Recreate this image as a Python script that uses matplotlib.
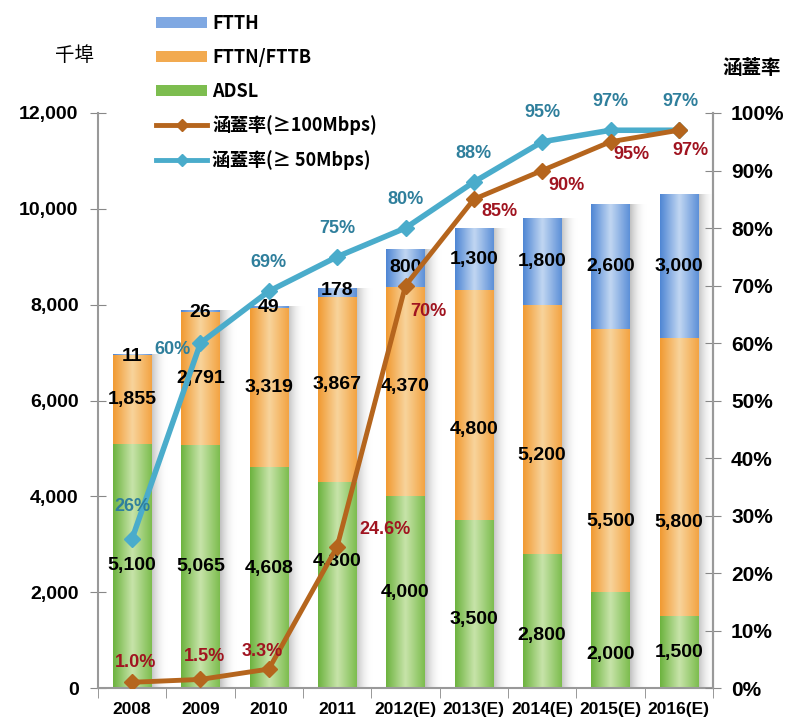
import numpy as np
import matplotlib.pyplot as plt
from matplotlib.colors import LinearSegmentedColormap
from matplotlib.patches import Patch
from matplotlib.lines import Line2D

years = ['2008', '2009', '2010', '2011', '2012(E)', '2013(E)', '2014(E)', '2015(E)', '2016(E)']
adsl = [5100, 5065, 4608, 4300, 4000, 3500, 2800, 2000, 1500]
fttn = [1855, 2791, 3319, 3867, 4370, 4800, 5200, 5500, 5800]
ftth = [11, 26, 49, 178, 800, 1300, 1800, 2600, 3000]
cov100 = [1.0, 1.5, 3.3, 24.6, 70, 85, 90, 95, 97]
cov50 = [26, 60, 69, 75, 80, 88, 95, 97, 97]
cov100_lbl = ['1.0%', '1.5%', '3.3%', '24.6%', '70%', '85%', '90%', '95%', '97%']
cov50_lbl = ['26%', '60%', '69%', '75%', '80%', '88%', '95%', '97%', '97%']

plt.rcParams['font.family'] = ['Liberation Sans', 'DejaVu Sans']
cjk = ['Noto Sans CJK TC', 'DejaVu Sans']

green = LinearSegmentedColormap.from_list('g', ['#6db33f', '#c8e4aa', '#7dbd4f'])
orange = LinearSegmentedColormap.from_list('o', ['#f19a32', '#f8d49c', '#f3a443'])
blue = LinearSegmentedColormap.from_list('b', ['#4f86d4', '#c2d7f2', '#5d90d8'])
shade = LinearSegmentedColormap.from_list('s', [(0.55, 0.55, 0.55, 0.55), (1, 1, 1, 0)])

fig = plt.figure(figsize=(7.87, 7.17), dpi=100)
ax = fig.add_axes([0.1245, 0.0404, 0.7815, 0.802])
x = np.arange(len(years))
w = 0.56
grad = np.linspace(0, 1, 64).reshape(1, -1)


def fill_grad(patch, cmap, z=2):
    b = patch.get_bbox()
    im = ax.imshow(grad, cmap=cmap, aspect='auto', extent=[b.x0, b.x1, b.y0, b.y1],
                   zorder=z, interpolation='bicubic')
    im.set_clip_path(patch)
    patch.set_visible(False)


# shadows
tot = np.array(adsl) + np.array(fttn) + np.array(ftth)
sh = ax.bar(x + w / 2 + 0.12, tot, 0.24, bottom=0, color='none', linewidth=0)
for p in sh:
    fill_grad(p, shade, z=1)

b1 = ax.bar(x, adsl, w, color='#8cc864', linewidth=0)
b2 = ax.bar(x, fttn, w, bottom=adsl, color='#f5b868', linewidth=0)
b3 = ax.bar(x, ftth, w, bottom=np.array(adsl) + np.array(fttn), color='#8db2e6', linewidth=0)
for bars, cm in [(b1, green), (b2, orange), (b3, blue)]:
    for p in bars:
        fill_grad(p, cm)

# label nudges (data units) to follow the original placement
adsl_dy = [0, 0, 200, 500, 0, -330, -300, -310, 0]
fttn_dy = [0, 0, 0, 100, 100, -500, -540, -1280, -940]

lf = dict(fontsize=14, fontweight='bold', ha='center', va='center', color='black', zorder=6)
for i in range(len(years)):
    ax.text(x[i], adsl[i] / 2 + adsl_dy[i], f'{adsl[i]:,}', **lf)
    ax.text(x[i], adsl[i] + fttn[i] / 2 + fttn_dy[i], f'{fttn[i]:,}', **lf)
    top = adsl[i] + fttn[i]
    if ftth[i] < 500:
        ax.text(x[i], top + ftth[i] - 40, f'{ftth[i]:,}', **lf)
    else:
        ax.text(x[i], top + ftth[i] / 2, f'{ftth[i]:,}', **lf)

ax.set_xlim(-0.5, len(years) - 0.5)
ax.set_ylim(0, 12000)
ax.set_yticks(range(0, 12001, 2000))
ax.set_yticklabels([f'{v:,}' for v in range(0, 12001, 2000)], fontsize=14, fontweight='bold')
ax.set_xticks(x)
ax.set_xticklabels(years, fontsize=12.5, fontweight='bold')
ax.set_xticks(np.arange(-0.5, len(years)), minor=True)
ax.tick_params(axis='x', which='major', length=0, pad=10)
ax.tick_params(axis='x', which='minor', length=7, color='#888888', direction='out')
ax.tick_params(axis='y', length=12, direction='inout', color='#888888', pad=8)
ax.spines['top'].set_visible(False)
for s in ['left', 'bottom', 'right']:
    ax.spines[s].set_color('#999999')
    ax.spines[s].set_linewidth(1.5)

ax2 = ax.twinx()
ax2.set_ylim(0, 100)
ax2.set_yticks(range(0, 101, 10))
ax2.set_yticklabels([f'{v}%' for v in range(0, 101, 10)], fontsize=15, fontweight='bold')
ax2.tick_params(axis='y', length=12, direction='inout', color='#888888', pad=7)
ax2.spines['top'].set_visible(False)
ax2.spines['right'].set_color('#999999')
ax2.spines['right'].set_linewidth(1.5)
ax2.spines['left'].set_visible(False)
ax2.spines['bottom'].set_visible(False)

c100 = '#b5651d'
c50 = '#4aaccb'
ax2.plot(x, cov50, color=c50, lw=4, marker='D', ms=8, zorder=4)
ax2.plot(x, cov100, color=c100, lw=3.5, marker='D', ms=8, zorder=5)

off50 = [(0, 5.5), (-0.41, -1.2), (0, 5), (0, 5), (0, 5), (0, 5), (0, 5), (0, 5), (0.03, 5)]
off100 = [(0.05, 3.5), (0.06, 4), (-0.1, 3), (0.7, 3), (0.33, -4.5), (0.38, -2.2), (0.36, -2.6), (0.3, -2.3), (0.17, -3.5)]
pf = dict(fontsize=13, fontweight='bold', ha='center', va='center', zorder=7)
for i in range(len(years)):
    ax2.text(x[i] + off50[i][0], cov50[i] + off50[i][1], cov50_lbl[i], color='#2f7f9c', **pf)
    ax2.text(x[i] + off100[i][0], cov100[i] + off100[i][1], cov100_lbl[i], color='#a01420', **pf)

handles = [Patch(facecolor='#7fa8e2'), Patch(facecolor='#f2aa50'), Patch(facecolor='#7dbd4f'),
           Line2D([], [], color=c100, lw=3.5, marker='D', ms=6),
           Line2D([], [], color=c50, lw=3.5, marker='D', ms=6)]
labels = ['FTTH', 'FTTN/FTTB', 'ADSL', '涵蓋率(≥100Mbps)', '涵蓋率(≥ 50Mbps)']
fig.legend(handles, labels, loc='upper left', bbox_to_anchor=(0.178, 1.003), frameon=False,
           handlelength=2.8, handleheight=0.6, labelspacing=0.82, handletextpad=0.3,
           prop={'family': cjk, 'weight': 'bold', 'size': 13})

fig.text(0.095, 0.922, '千埠', fontsize=14, family=cjk, ha='center', va='center')
fig.text(0.955, 0.905, '涵蓋率', fontsize=14, family=cjk, fontweight='bold', ha='center', va='center')

fig.savefig('out.png', dpi=100)
